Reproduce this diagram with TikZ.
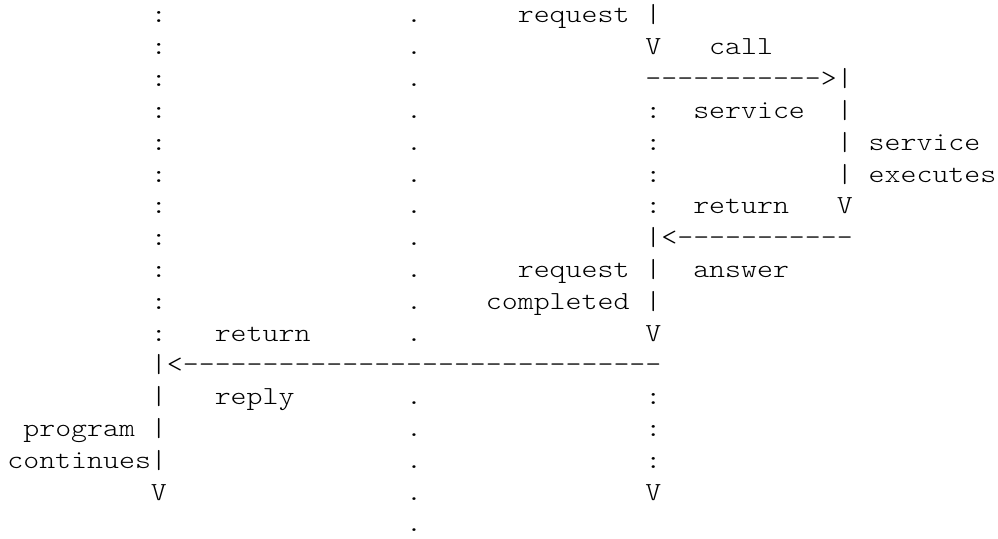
\documentclass[tikz,border=0pt]{standalone}
\usepackage{fontspec}
\usepackage{graphicx}
\setmonofont{lmmonolt10-regular.otf}
\newcommand\sxw[1]{\scalebox{1.1685}[1]{#1}}
\begin{document}
\begin{tikzpicture}[x=15.95pt,y=-31.8pt,
  txt/.style={font=\ttfamily\fontsize{26pt}{32pt}\selectfont,inner sep=0pt,outer sep=0pt,anchor=base west,text=black}]
\fill[white] (0pt,0pt) rectangle (998pt,-538pt);
\useasboundingbox (0pt,0pt) rectangle (998pt,-538pt);
\begin{scope}[shift={(7.4pt,-23pt)}]
% client timeline (left)
\foreach \r in {0,...,10} \node[txt] (lc\r) at (9,\r) {\sxw{:}};
% middle dotted timeline
\foreach \r in {0,...,10,12,13,14,15,16} \node[txt] (dc\r) at (25,\r) {\sxw{.}};
% server-side colons
\foreach \r in {3,4,5,6,12,13,14} \node[txt] (sc\r) at (40,\r) {\sxw{:}};
% row 0
\node[txt] (req1) at (32,0) {\sxw{request}};
\node[txt] (bar0) at (40,0) {\sxw{|}};
% row 1
\node[txt] (v1) at (40,1) {\sxw{V}};
\node[txt] (call) at (44,1) {\sxw{call}};
% row 2
\node[txt] (callarrow) at (40,2) {\sxw{----------->|}};
% row 3
\node[txt] (service1) at (43,3) {\sxw{service}};
\node[txt] (rb3) at (52,3) {\sxw{|}};
% rows 4-5
\node[txt] (rb4) at (52,4) {\sxw{|}};
\node[txt] (service2) at (54,4) {\sxw{service}};
\node[txt] (rb5) at (52,5) {\sxw{|}};
\node[txt] (executes) at (54,5) {\sxw{executes}};
% row 6
\node[txt] (return1) at (43,6) {\sxw{return}};
\node[txt] (rv6) at (52,6) {\sxw{V}};
% row 7
\node[txt] (retarrow) at (40,7) {\sxw{|<-----------}};
% row 8
\node[txt] (req2) at (32,8) {\sxw{request}};
\node[txt] (bar8) at (40,8) {\sxw{|}};
\node[txt] (answer) at (43,8) {\sxw{answer}};
% row 9
\node[txt] (completed) at (30,9) {\sxw{completed}};
\node[txt] (bar9) at (40,9) {\sxw{|}};
% row 10
\node[txt] (return2) at (13,10) {\sxw{return}};
\node[txt] (v10) at (40,10) {\sxw{V}};
% row 11
\node[txt] (replyarrow) at (9,11) {\sxw{|<------------------------------}};
% row 12
\node[txt] (lb12) at (9,12) {\sxw{|}};
\node[txt] (reply) at (13,12) {\sxw{reply}};
% row 13
\node[txt] (program) at (1,13) {\sxw{program}};
\node[txt] (lb13) at (9,13) {\sxw{|}};
% row 14
\node[txt] (continues) at (0,14) {\sxw{continues|}};
% row 15
\node[txt] (lv15) at (9,15) {\sxw{V}};
\node[txt] (sv15) at (40,15) {\sxw{V}};
\end{scope}
\end{tikzpicture}
\end{document}
